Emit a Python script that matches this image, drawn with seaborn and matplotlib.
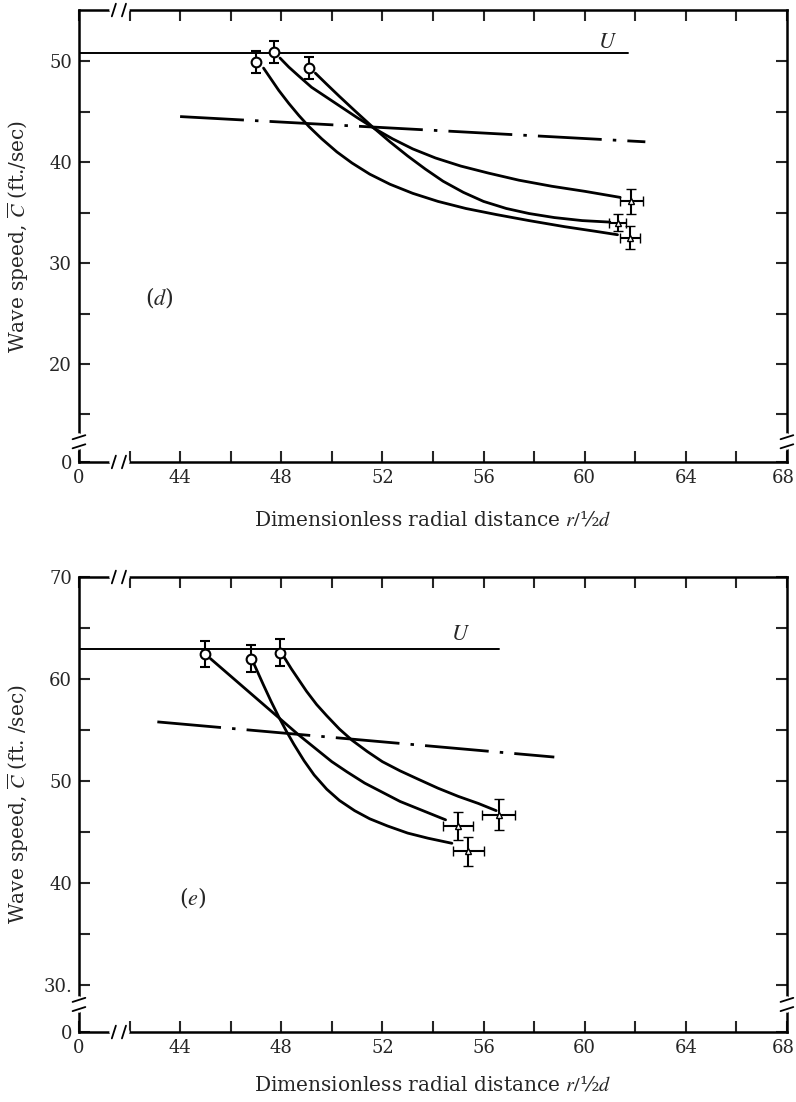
import matplotlib
matplotlib.use("Agg")
import matplotlib.pyplot as plt
import matplotlib.transforms as mtransforms
import pandas as pd
import numpy as np
import seaborn as sns

sns.set_style("white")
plt.rcParams['font.family'] = ['DejaVu Serif']
plt.rcParams['mathtext.fontset'] = 'stix'
plt.rcParams['lines.scale_dashes'] = False

###################################
# panel (d)
d_u_level = 50.8
d_u_end = 61.7
d_dash_x = [44.0, 62.4]
d_dash_y = [44.5, 42.0]

d_circ_x = [47.0, 47.7, 49.1]
d_circ_y = [49.9, 50.9, 49.3]
d_circ_err = [1.1, 1.1, 1.1]

d_tri_x = [61.85, 61.3, 61.8]
d_tri_y = [36.1, 34.0, 32.5]
d_tri_xerr = [0.45, 0.35, 0.4]
d_tri_yerr = [1.2, 0.85, 1.15]

d_c1_x = [47.3, 47.6, 47.9, 48.3, 48.7, 49.1, 49.6, 50.2, 50.8, 51.5, 52.3, 53.2, 54.2, 55.3, 56.5, 57.8, 59.2, 60.4, 61.3]
d_c1_y = [49.3, 48.2, 47.1, 45.8, 44.6, 43.5, 42.3, 41.0, 39.9, 38.8, 37.8, 36.9, 36.1, 35.4, 34.8, 34.2, 33.6, 33.15, 32.8]
d_c2_x = [47.95, 48.3, 48.7, 49.2, 49.8, 50.4, 51.0, 51.7, 52.4, 53.2, 54.1, 55.1, 56.2, 57.4, 58.7, 60.0, 61.4]
d_c2_y = [50.3, 49.4, 48.5, 47.4, 46.4, 45.4, 44.4, 43.3, 42.3, 41.3, 40.4, 39.6, 38.9, 38.2, 37.6, 37.1, 36.5]
d_c3_x = [49.35, 49.8, 50.3, 50.9, 51.6, 52.3, 53.0, 53.7, 54.4, 55.2, 56.0, 56.9, 57.8, 58.8, 59.9, 61.0]
d_c3_y = [48.8, 47.7, 46.5, 45.1, 43.5, 42.0, 40.6, 39.3, 38.1, 37.0, 36.1, 35.4, 34.9, 34.5, 34.2, 34.05]

# panel (e)
e_u_level = 62.9
e_u_end = 56.6
e_dash_x = [43.1, 58.8]
e_dash_y = [55.8, 52.35]

e_circ_x = [45.0, 46.8, 47.95]
e_circ_y = [62.45, 62.0, 62.6]
e_circ_err = [1.3, 1.35, 1.3]

e_tri_x = [56.6, 55.0, 55.4]
e_tri_y = [46.7, 45.6, 43.1]
e_tri_xerr = [0.65, 0.6, 0.6]
e_tri_yerr = [1.5, 1.35, 1.45]

e_c1_x = [45.2, 45.9, 46.6, 47.3, 48.0, 48.7, 49.4, 50.0, 50.6, 51.3, 52.0, 52.7, 53.4, 54.0, 54.5]
e_c1_y = [62.0, 60.5, 59.0, 57.5, 56.0, 54.5, 53.1, 51.9, 50.9, 49.8, 48.9, 48.0, 47.3, 46.7, 46.2]
e_c2_x = [46.9, 47.1, 47.3, 47.6, 47.9, 48.2, 48.5, 48.9, 49.3, 49.8, 50.3, 50.9, 51.5, 52.2, 53.0, 53.8, 54.75]
e_c2_y = [61.6, 60.5, 59.4, 57.8, 56.3, 54.9, 53.6, 52.0, 50.6, 49.2, 48.1, 47.1, 46.3, 45.6, 44.9, 44.4, 43.9]
e_c3_x = [48.1, 48.4, 48.7, 49.0, 49.4, 49.8, 50.3, 50.8, 51.4, 52.0, 52.7, 53.4, 54.2, 55.0, 55.8, 56.5]
e_c3_y = [62.2, 61.0, 59.9, 58.8, 57.5, 56.4, 55.1, 54.0, 52.9, 51.9, 51.0, 50.2, 49.3, 48.5, 47.8, 47.1]

x_ticks = [40, 44, 48, 52, 56, 60, 64, 68]
x_ticklabels = ['0', '44', '48', '52', '56', '60', '64', '68']
x_minor = [42, 46, 50, 54, 58, 62, 66]
x_break = 41.6

d_ylim = (10.3, 55.05)
d_yticks = [10.3, 20, 30, 40, 50]
d_yticklabels = ['0', '20', '30', '40', '50']
d_yminor = [15, 25, 35, 45]
d_ybreak = 12.3

e_ylim = (25.4, 70)
e_yticks = [25.4, 30, 40, 50, 60, 70]
e_yticklabels = ['0', '30.', '40', '50', '60', '70']
e_yminor = [35, 45, 55, 65]
e_ybreak = 28.1
####################################

FS = 13
LFS = 14.5


def curves_frame(curves):
    rows = []
    for k, (xs, ys) in enumerate(curves):
        for x, y in zip(xs, ys):
            rows.append({'x': x, 'y': y, 'curve': k})
    return pd.DataFrame(rows)


def break_marks(ax, yb):
    tx = ax.get_xaxis_transform()
    for yy in (0, 1):
        ax.plot([x_break - 0.3, x_break + 0.3], [yy, yy], color='white', lw=4,
                transform=tx, clip_on=False, zorder=5)
        for off in (-0.22, 0.18):
            ax.plot([x_break + off - 0.08, x_break + off + 0.08], [yy - 0.014, yy + 0.014],
                    color='black', lw=1.3, transform=tx, clip_on=False, zorder=6)
    ty = ax.get_yaxis_transform()
    for xx in (0, 1):
        ax.plot([xx, xx], [yb - 0.55, yb + 0.55], color='white', lw=4,
                transform=ty, clip_on=False, zorder=5)
        for off in (-0.45, 0.45):
            ax.plot([xx - 0.009, xx + 0.009], [yb + off - 0.2, yb + off + 0.2],
                    color='black', lw=1.3, transform=ty, clip_on=False, zorder=6)


def panel(ax, u_level, u_end, dash_x, dash_y, cx, cy, cerr, tx, ty, txerr, tyerr,
          curves, ylim, yticks, yticklabels, yminor, ybreak, tag, tag_xy, u_xy, ylabel, xlab_y):
    ax.set_xlim(40, 68)
    ax.set_ylim(*ylim)

    ax.plot([40, u_end], [u_level, u_level], color='black', lw=1.4)
    ax.text(u_xy[0], u_xy[1], '$U$', fontsize=FS + 3, ha='center', va='center')
    ax.plot(dash_x, dash_y, color='black', lw=2.0, dashes=(46, 8, 2.5, 8))

    df = curves_frame(curves)
    sns.lineplot(data=df, x='x', y='y', units='curve', estimator=None, sort=False,
                 color='black', lw=2.0, ax=ax, legend=False)

    ax.errorbar(cx, cy, yerr=cerr, fmt='o', ms=7, mfc='white', mec='black', mew=1.5,
                ecolor='black', elinewidth=1.5, capsize=3.5, capthick=1.5, zorder=4)
    ax.errorbar(tx, ty, xerr=txerr, yerr=tyerr, fmt='^', ms=4, mfc='white', mec='black',
                mew=1.0, ecolor='black', elinewidth=1.5, capsize=3.5, capthick=1.5, zorder=4)

    ax.text(tag_xy[0], tag_xy[1], tag, fontsize=FS + 3, ha='center', va='center')

    ax.set_xticks(x_ticks)
    ax.set_xticklabels(x_ticklabels)
    ax.set_xticks(x_minor, minor=True)
    ax.set_yticks(yticks)
    ax.set_yticklabels(yticklabels)
    ax.set_yticks(yminor, minor=True)
    ax.tick_params(which='both', direction='in', length=8, width=1.5,
                   top=True, right=True, bottom=True, left=True, labelsize=FS, pad=5)
    # nudge the last x label inwards so it stays on the page
    last = ax.get_xticklabels()[-1]
    last.set_transform(last.get_transform() +
                       mtransforms.ScaledTranslation(-4 / 100, 0, ax.figure.dpi_scale_trans))
    for s in ax.spines.values():
        s.set_linewidth(1.8)
        s.set_color('black')

    ax.set_xlabel('Dimensionless radial distance $r/$\u00bd$d$', fontsize=LFS)
    ax.xaxis.label.set_va('center')
    ax.xaxis.set_label_coords(0.5, xlab_y)
    ax.set_ylabel(ylabel, fontsize=LFS)
    ax.yaxis.label.set_va('center')
    ax.yaxis.set_label_coords(-0.086, 0.5)
    break_marks(ax, ybreak)


fig = plt.figure(figsize=(7.96, 11.02), dpi=100)
ax1 = fig.add_axes([0.0992, 0.5808, 0.8894, 0.4101])
ax2 = fig.add_axes([0.0992, 0.0635, 0.8894, 0.4129])

panel(ax1, d_u_level, d_u_end, d_dash_x, d_dash_y, d_circ_x, d_circ_y, d_circ_err,
      d_tri_x, d_tri_y, d_tri_xerr, d_tri_yerr,
      [(d_c1_x, d_c1_y), (d_c2_x, d_c2_y), (d_c3_x, d_c3_y)],
      d_ylim, d_yticks, d_yticklabels, d_yminor, d_ybreak,
      '($d$)', (43.2, 26.6), (60.9, 51.9), r'Wave speed, $\overline{C}$ (ft./sec)', -0.128)

panel(ax2, e_u_level, e_u_end, e_dash_x, e_dash_y, e_circ_x, e_circ_y, e_circ_err,
      e_tri_x, e_tri_y, e_tri_xerr, e_tri_yerr,
      [(e_c1_x, e_c1_y), (e_c2_x, e_c2_y), (e_c3_x, e_c3_y)],
      e_ylim, e_yticks, e_yticklabels, e_yminor, e_ybreak,
      '($e$)', (44.5, 38.6), (55.1, 64.4), r'Wave speed, $\overline{C}$ (ft. /sec)', -0.1165)

fig.savefig('out.png', dpi=100)
